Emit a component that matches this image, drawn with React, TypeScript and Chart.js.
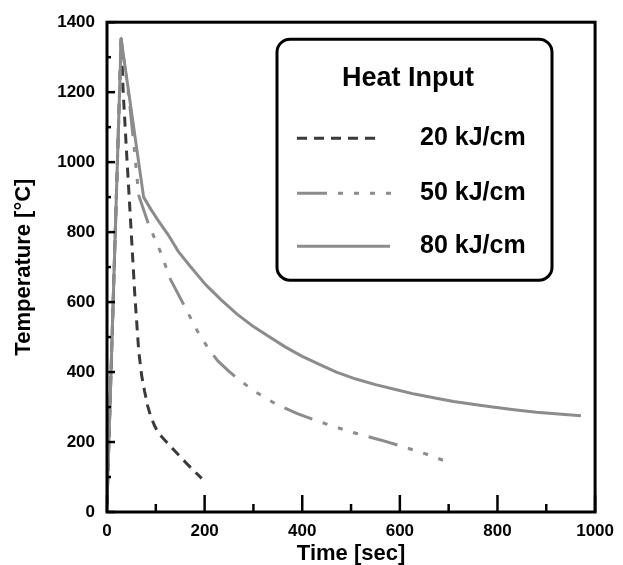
import React, { useEffect, useRef } from 'react';
import { Chart, registerables } from 'chart.js';

Chart.register(...registerables);

// ---- data ----
const seriesLabels = ['20 kJ/cm', '50 kJ/cm', '80 kJ/cm'];

const time20 = [0, 29, 33, 40, 49, 57, 65, 71, 77, 83, 89, 97, 105, 120, 140, 165, 194];
const temp20 = [20, 1352, 1205, 1030, 815, 620, 460, 390, 345, 305, 276, 248, 226, 203, 173, 136, 96];

const time50 = [0, 29, 45, 55, 65, 85, 110, 130, 160, 186, 210, 227, 250, 267, 300, 348, 390, 429, 470, 510, 560, 608, 655, 700];
const temp50 = [20, 1352, 1185, 1050, 905, 823, 742, 665, 585, 515, 462, 432, 402, 382, 347, 307, 281, 261, 242, 225, 206, 186, 165, 142];

const time80 = [0, 29, 75, 90, 105, 125, 146, 170, 202, 235, 267, 300, 330, 365, 400, 435, 470, 510, 550, 591, 630, 672, 710, 753, 790, 834, 880, 925, 971];
const temp80 = [25, 1352, 900, 865, 833, 793, 745, 703, 650, 605, 565, 530, 503, 472, 445, 422, 400, 380, 364, 350, 337, 326, 316, 307, 300, 292, 285, 280, 275];

const xMajorTicks = [0, 200, 400, 600, 800, 1000];
const xMinorTicks = [100, 300, 500, 700, 900];
const yMajorTicks = [0, 200, 400, 600, 800, 1000, 1200, 1400];
const yMinorTicks = [100, 300, 500, 700, 900, 1100, 1300];

const legendTitle = 'Heat Input';

const FONT = '"Liberation Sans", Arial, Helvetica, sans-serif';

const toPoints = (xs: number[], ys: number[]) => xs.map((x, i) => ({ x, y: ys[i] }));

const framePlugin = {
  id: 'frameTicks',
  afterDatasetsDraw(chart: any) {
    const { ctx, chartArea } = chart;
    const xs = chart.scales.x;
    const ys = chart.scales.y;
    const { left, right, top, bottom } = chartArea;
    ctx.save();
    ctx.strokeStyle = '#000';
    ctx.lineWidth = 3;
    ctx.lineCap = 'butt';
    ctx.strokeRect(left, top, right - left, bottom - top);
    ctx.lineWidth = 2.5;
    const tickX = (vals: number[], len: number) => {
      vals.forEach((v) => {
        const px = xs.getPixelForValue(v);
        ctx.beginPath();
        ctx.moveTo(px, bottom);
        ctx.lineTo(px, bottom - len);
        ctx.stroke();
      });
    };
    const tickY = (vals: number[], len: number) => {
      vals.forEach((v) => {
        const py = ys.getPixelForValue(v);
        ctx.beginPath();
        ctx.moveTo(left, py);
        ctx.lineTo(left + len, py);
        ctx.stroke();
      });
    };
    tickX(xMajorTicks, 17);
    tickX(xMinorTicks, 8);
    tickY(yMajorTicks, 8);
    tickY(yMinorTicks, 4);
    ctx.restore();
  },
};

const legendPlugin = {
  id: 'heatLegend',
  afterDraw(chart: any) {
    const { ctx, chartArea } = chart;
    const bx = chartArea.left + 170;
    const by = chartArea.top + 17;
    const bw = 275;
    const bh = 241;
    ctx.save();
    ctx.fillStyle = '#fff';
    ctx.strokeStyle = '#000';
    ctx.lineWidth = 3;
    ctx.beginPath();
    (ctx as any).roundRect(bx, by, bw, bh, 13);
    ctx.fill();
    ctx.stroke();

    ctx.fillStyle = '#000';
    ctx.textBaseline = 'middle';
    ctx.textAlign = 'center';
    ctx.font = `bold 27px ${FONT}`;
    ctx.fillText(legendTitle, bx + 131, by + 39);

    const rows = [by + 99, by + 154, by + 207];
    const sampleEnd = [bx + 101, bx + 114, bx + 113];
    [0, 1, 2].forEach((i) => {
      const ds: any = chart.data.datasets[i];
      const y = rows[i];
      ctx.save();
      ctx.strokeStyle = ds.borderColor;
      ctx.lineWidth = ds.borderWidth;
      ctx.setLineDash(ds.borderDash || []);
      ctx.beginPath();
      ctx.moveTo(bx + 20, y);
      ctx.lineTo(sampleEnd[i], y);
      ctx.stroke();
      ctx.restore();
      ctx.fillStyle = '#000';
      ctx.textAlign = 'left';
      ctx.font = `bold 25px ${FONT}`;
      ctx.fillText(ds.label, bx + 143, y);
    });
    ctx.restore();
  },
};

export default function App() {
  const canvasRef = useRef<HTMLCanvasElement | null>(null);

  useEffect(() => {
    document.body.style.margin = '0';
    const canvas = canvasRef.current;
    if (!canvas) return;
    const common = {
      pointRadius: 0,
      borderWidth: 3,
      tension: 0,
      borderJoinStyle: 'round',
      fill: false,
    };
    const chart = new Chart(canvas, {
      type: 'line',
      data: {
        datasets: [
          {
            ...common,
            label: seriesLabels[0],
            data: toPoints(time20, temp20),
            borderColor: '#3a3a3a',
            borderDash: [10, 7],
            order: 3,
          },
          {
            ...common,
            label: seriesLabels[1],
            data: toPoints(time50, temp50),
            borderColor: '#8c8c8c',
            borderDash: [30, 11, 5, 11, 5, 11, 5, 11],
            order: 2,
          },
          {
            ...common,
            label: seriesLabels[2],
            data: toPoints(time80, temp80),
            borderColor: '#8c8c8c',
            order: 1,
          },
        ],
      },
      options: {
        responsive: false,
        animation: false,
        devicePixelRatio: 1,
        layout: { padding: { top: 22, right: 26, left: 0, bottom: 0 } },
        plugins: {
          legend: { display: false },
          tooltip: { enabled: false },
        },
        scales: {
          x: {
            type: 'linear',
            min: 0,
            max: 1000,
            grid: { display: false, drawTicks: false },
            border: { display: false },
            ticks: {
              stepSize: 200,
              padding: 9,
              color: '#000',
              font: { family: FONT, size: 17, weight: 'bold' },
              callback: (v: any) => String(v),
            },
            title: {
              display: true,
              text: 'Time [sec]',
              color: '#000',
              font: { family: FONT, size: 22, weight: 'bold', lineHeight: 1 },
              padding: { top: 0, bottom: 0 },
            },
            afterFit: (scale: any) => {
              scale.height = 53;
            },
          },
          y: {
            type: 'linear',
            min: 0,
            max: 1400,
            grid: { display: false, drawTicks: false },
            border: { display: false },
            ticks: {
              stepSize: 200,
              padding: 12,
              color: '#000',
              font: { family: FONT, size: 17, weight: 'bold' },
              callback: (v: any) => String(v),
            },
            title: {
              display: true,
              text: 'Temperature [°C]',
              color: '#000',
              font: { family: FONT, size: 22, weight: 'bold', lineHeight: 1 },
              padding: { top: 13, bottom: 0 },
            },
            afterFit: (scale: any) => {
              scale.width = 107;
            },
          },
        },
      } as any,
      plugins: [framePlugin, legendPlugin],
    });
    return () => chart.destroy();
  }, []);

  return (
    <div style={{ width: 623, height: 565 }}>
      <canvas ref={canvasRef} width={623} height={565} style={{ display: 'block' }} />
    </div>
  );
}
